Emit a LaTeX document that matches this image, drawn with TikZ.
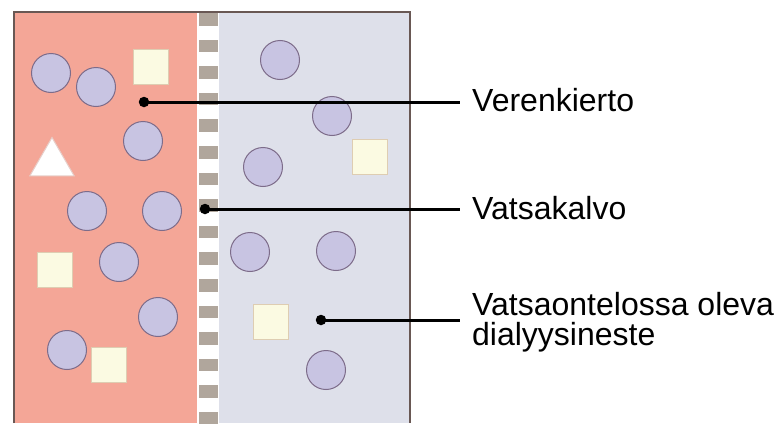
\documentclass[tikz,border=0pt]{standalone}
\usepackage{fontspec}
\setmainfont{Liberation Sans}
\usetikzlibrary{shapes.geometric}
\definecolor{bloodred}{RGB}{244,166,151}
\definecolor{fluid}{RGB}{222,224,234}
\definecolor{cellfill}{RGB}{200,196,226}
\definecolor{celledge}{RGB}{125,108,138}
\definecolor{sqfill}{RGB}{251,250,226}
\definecolor{sqedge}{RGB}{222,205,178}
\definecolor{membr}{RGB}{176,166,156}
\definecolor{frame}{RGB}{105,88,84}
\tikzset{
  cell/.style={circle, draw=celledge, fill=cellfill, line width=1pt, minimum size=39pt, inner sep=0pt},
  sq/.style={rectangle, draw=sqedge, fill=sqfill, line width=1pt, minimum size=35pt, inner sep=0pt},
  tri/.style={regular polygon, regular polygon sides=3, draw=bloodred!80!black!40!white, fill=white, line width=1pt, minimum size=51pt, inner sep=0pt},
  dotm/.style={circle, fill=black, minimum size=10.5pt, inner sep=0pt},
  lead/.style={line width=3pt, black},
  lbl/.style={font=\fontsize{32}{30}\selectfont, inner sep=0pt, align=left},
  pore/.style={fill=membr, draw=none}
}
\begin{document}
\begin{tikzpicture}[x=1pt,y=-1pt]
\useasboundingbox (0,0) rectangle (784,423);
% panels
\fill[bloodred] (14,12) rectangle (197,423);
\fill[white] (197,12) rectangle (219,423);
\fill[fluid] (219,12) rectangle (410,423);
% membrane pores
\foreach \i in {0,...,15}{
  \fill[pore] (199,{13+26.6*\i}) rectangle (218,{25.5+26.6*\i});
}
% frame
\draw[frame, line width=1.5pt] (14,423) -- (14,12) -- (410,12) -- (410,423);
% left compartment
\node[cell] (l1) at (51,73) {};
\node[cell] (l2) at (96,87) {};
\node[cell] (l3) at (143,141) {};
\node[cell] (l4) at (87,211) {};
\node[cell] (l5) at (162,211) {};
\node[cell] (l6) at (119,262) {};
\node[cell] (l7) at (158,317) {};
\node[cell] (l8) at (67,350) {};
\node[sq] (ls1) at (151,67) {};
\node[sq] (ls2) at (55,270) {};
\node[sq] (ls3) at (109,365) {};
\node[tri] (lt) at (52,163) {};
% right compartment
\node[cell] (r1) at (280,60) {};
\node[cell] (r2) at (332,116) {};
\node[cell] (r3) at (263,167) {};
\node[cell] (r4) at (250,252) {};
\node[cell] (r5) at (336,251) {};
\node[cell] (r6) at (326,370) {};
\node[sq] (rs1) at (370,157) {};
\node[sq] (rs2) at (271,322) {};
% leaders
\node[dotm] (d1) at (144,102) {};
\node[dotm] (d2) at (205,209) {};
\node[dotm] (d3) at (321,320) {};
\coordinate (e1) at (460,102);
\coordinate (e2) at (460,209);
\coordinate (e3) at (460,320);
\draw[lead] (d1.center) -- (e1);
\draw[lead] (d2.center) -- (e2);
\draw[lead] (d3.center) -- (e3);
\node[lbl, anchor=base west] (t1) at (472,111) {Verenkierto};
\node[lbl, anchor=base west] (t2) at (472,219) {Vatsakalvo};
\node[lbl, anchor=north west] (t3) at (472,292) {Vatsaontelossa oleva\\dialyysineste};
\end{tikzpicture}
\end{document}
